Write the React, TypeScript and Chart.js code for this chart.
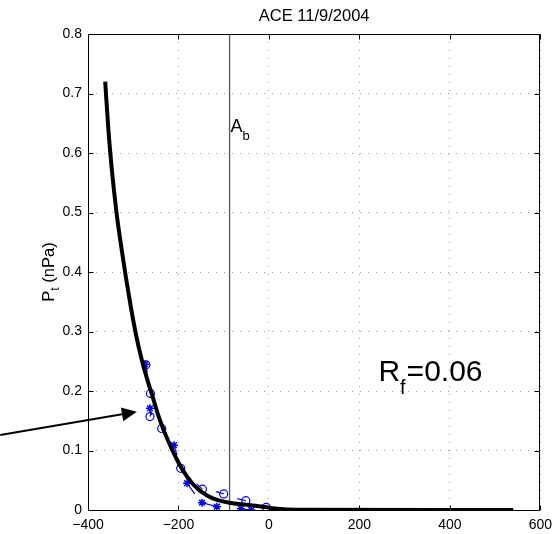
import React, { useEffect, useRef } from "react";
import { Chart, registerables } from "chart.js";

Chart.register(...registerables);

const TITLE = "ACE 11/9/2004";
const Y_LABEL_MAIN = "P";
const Y_LABEL_SUB = "t";
const Y_LABEL_REST = " (nPa)";
const AB_MAIN = "A";
const AB_SUB = "b";
const RF_MAIN = "R";
const RF_SUB = "f";
const RF_VALUE = "=0.06";

const X_TICKS = [-400, -200, 0, 200, 400, 600];
const X_TICK_LABELS = ["\u2212400", "\u2212200", "0", "200", "400", "600"];
const Y_TICKS = [0, 0.1, 0.2, 0.3, 0.4, 0.5, 0.6, 0.7, 0.8];
const Y_TICK_LABELS = ["0", "0.1", "0.2", "0.3", "0.4", "0.5", "0.6", "0.7", "0.8"];

// fitted curve
const FIT_X = [-362, -355, -347, -337, -326, -316, -305, -294, -282, -270, -257, -245, -232, -218, -203, -188, -172, -155, -136, -115, -90, -60, -30, 0, 25, 60, 540];
const FIT_Y = [0.72, 0.64, 0.57, 0.5, 0.44, 0.39, 0.34, 0.295, 0.255, 0.222, 0.19, 0.16, 0.133, 0.108, 0.084, 0.064, 0.047, 0.034, 0.024, 0.017, 0.0125, 0.0095, 0.007, 0.004, 0.0015, 0.0005, 0.0];

// observed (circles) with tails
const CIRCLE_X = [-272, -262, -263, -237, -195, -147, -100, -51, -6];
const CIRCLE_Y = [0.244, 0.196, 0.157, 0.137, 0.07, 0.035, 0.027, 0.0156, 0.0045];
const CIRCLE_TAIL_X = [-269, -266, -260, -233, -190, -160, -117, -70, -17];
const CIRCLE_TAIL_Y = [0.232, 0.205, 0.165, 0.13, 0.062, 0.044, 0.031, 0.019, 0.0084];

// observed (asterisks) with tails
const STAR_X = [-274, -263, -210, -181, -148, -115, -62, -39];
const STAR_Y = [0.245, 0.171, 0.109, 0.045, 0.0123, 0.0055, 0.002, 0.0];
const STAR_TAIL_X = [-272, -259, -203, -164, -115, -115, -39, -39];
const STAR_TAIL_Y = [0.235, 0.16, 0.092, 0.027, 0.0055, 0.0055, 0.0, 0.0];

const AB_X = -87;
const AB_LABEL_POS = [-85, 0.635];
const RF_LABEL_POS = [242, 0.217];
const ARROW_FROM = [-594, 0.126];
const ARROW_TO = [-292, 0.165];

const FONT = "'Liberation Sans', Arial, Helvetica, sans-serif";
const BLUE = "#0000ff";

function segments(xs: number[], ys: number[], tx: number[], ty: number[]) {
  const out: any[] = [];
  xs.forEach((x, i) => {
    out.push({ x, y: ys[i] });
    out.push({ x: tx[i], y: ty[i] });
    out.push({ x: x, y: null });
  });
  return out;
}

const overlay = {
  id: "overlay",
  afterDraw(chart: any) {
    const { ctx, chartArea: a, scales } = chart;
    const xs = scales.x;
    const ys = scales.y;
    ctx.save();
    // box
    ctx.strokeStyle = "#000";
    ctx.lineWidth = 1;
    const L = Math.round(a.left) + 0.5;
    const R = Math.round(a.right) - 0.5;
    const T = Math.round(a.top) + 0.5;
    const B = Math.round(a.bottom) + 0.5;
    ctx.beginPath();
    ctx.rect(L, T, R - L, B - T);
    ctx.stroke();
    // inward ticks
    ctx.beginPath();
    X_TICKS.forEach((v) => {
      const p = Math.round(xs.getPixelForValue(v)) + 0.5;
      ctx.moveTo(p, B);
      ctx.lineTo(p, B - 5);
      ctx.moveTo(p, T);
      ctx.lineTo(p, T + 5);
    });
    Y_TICKS.forEach((v) => {
      const p = Math.round(ys.getPixelForValue(v)) + 0.5;
      ctx.moveTo(L, p);
      ctx.lineTo(L + 5, p);
      ctx.moveTo(R, p);
      ctx.lineTo(R - 5, p);
    });
    ctx.stroke();

    ctx.fillStyle = "#000";
    // title
    ctx.font = `16.5px ${FONT}`;
    ctx.textAlign = "center";
    ctx.textBaseline = "alphabetic";
    ctx.fillText(TITLE, (a.left + a.right) / 2, 20.5);

    // y label rotated
    ctx.save();
    const bigF = `16.5px ${FONT}`;
    const subF = `12px ${FONT}`;
    ctx.font = bigF;
    const wP = ctx.measureText(Y_LABEL_MAIN).width;
    const wRest = ctx.measureText(Y_LABEL_REST).width;
    ctx.font = subF;
    const wSub = ctx.measureText(Y_LABEL_SUB).width;
    const total = wP + wSub + wRest;
    ctx.translate(a.left - 34, (a.top + a.bottom) / 2);
    ctx.rotate(-Math.PI / 2);
    ctx.textAlign = "left";
    let cx = -total / 2;
    ctx.font = bigF;
    ctx.fillText(Y_LABEL_MAIN, cx, 0);
    cx += wP;
    ctx.font = subF;
    ctx.fillText(Y_LABEL_SUB, cx, 5);
    cx += wSub;
    ctx.font = bigF;
    ctx.fillText(Y_LABEL_REST, cx, 0);
    ctx.restore();

    // A_b
    ctx.textAlign = "left";
    let px = xs.getPixelForValue(AB_LABEL_POS[0]);
    let py = ys.getPixelForValue(AB_LABEL_POS[1]);
    ctx.font = `18px ${FONT}`;
    ctx.fillText(AB_MAIN, px, py);
    const wA = ctx.measureText(AB_MAIN).width;
    ctx.font = `13px ${FONT}`;
    ctx.fillText(AB_SUB, px + wA, py + 8);

    // R_f=0.06
    px = xs.getPixelForValue(RF_LABEL_POS[0]);
    py = ys.getPixelForValue(RF_LABEL_POS[1]);
    ctx.font = `30px ${FONT}`;
    ctx.fillText(RF_MAIN, px, py);
    const wR = ctx.measureText(RF_MAIN).width;
    ctx.font = `20px ${FONT}`;
    ctx.fillText(RF_SUB, px + wR, py + 13);
    const wf = ctx.measureText(RF_SUB).width;
    ctx.font = `30px ${FONT}`;
    ctx.fillText(RF_VALUE, px + wR + wf + 1, py);

    // arrow
    const x0 = xs.getPixelForValue(ARROW_FROM[0]);
    const y0 = ys.getPixelForValue(ARROW_FROM[1]);
    const x1 = xs.getPixelForValue(ARROW_TO[0]);
    const y1 = ys.getPixelForValue(ARROW_TO[1]);
    const ang = Math.atan2(y1 - y0, x1 - x0);
    const hl = 15;
    const hw = 7;
    const bx = x1 - hl * Math.cos(ang);
    const by = y1 - hl * Math.sin(ang);
    ctx.strokeStyle = "#000";
    ctx.lineWidth = 2;
    ctx.beginPath();
    ctx.moveTo(x0, y0);
    ctx.lineTo(bx, by);
    ctx.stroke();
    ctx.beginPath();
    ctx.moveTo(x1, y1);
    ctx.lineTo(bx - hw * Math.sin(ang), by + hw * Math.cos(ang));
    ctx.lineTo(bx + hw * Math.sin(ang), by - hw * Math.cos(ang));
    ctx.closePath();
    ctx.fill();
    ctx.restore();
  },
};

export default function App() {
  const ref = useRef<HTMLCanvasElement | null>(null);
  useEffect(() => {
    if (!ref.current) return;
    const fit = FIT_X.map((x, i) => ({ x, y: FIT_Y[i] }));
    const circles = CIRCLE_X.map((x, i) => ({ x, y: CIRCLE_Y[i] }));
    const stars = STAR_X.map((x, i) => ({ x, y: STAR_Y[i] }));
    const chart = new Chart(ref.current, {
      type: "scatter",
      data: {
        datasets: [
          {
            label: "fit",
            data: fit,
            showLine: true,
            borderColor: "#000",
            borderWidth: 4,
            pointRadius: 0,
            cubicInterpolationMode: "monotone",
            clip: 0,
          } as any,
          {
            label: "circles",
            data: circles,
            showLine: false,
            pointStyle: "circle",
            pointRadius: 4,
            pointBorderColor: BLUE,
            pointBackgroundColor: "rgba(0,0,0,0)",
            pointBorderWidth: 1.2,
          },
          {
            label: "stars",
            data: stars,
            showLine: false,
            pointStyle: "star",
            pointRadius: 4,
            pointBorderColor: BLUE,
            pointBorderWidth: 1.5,
          },
          {
            label: "circleTails",
            data: segments(CIRCLE_X, CIRCLE_Y, CIRCLE_TAIL_X, CIRCLE_TAIL_Y),
            showLine: true,
            spanGaps: false,
            borderColor: BLUE,
            borderWidth: 1.2,
            pointRadius: 0,
          } as any,
          {
            label: "starTails",
            data: segments(STAR_X, STAR_Y, STAR_TAIL_X, STAR_TAIL_Y),
            showLine: true,
            spanGaps: false,
            borderColor: BLUE,
            borderWidth: 1.2,
            pointRadius: 0,
          } as any,
          {
            label: "Ab",
            data: [
              { x: AB_X, y: Y_TICKS[0] },
              { x: AB_X, y: Y_TICKS[Y_TICKS.length - 1] },
            ],
            showLine: true,
            borderColor: "#555",
            borderWidth: 1.3,
            pointRadius: 0,
          },
        ],
      },
      options: {
        animation: false,
        responsive: false,
        events: [],
        layout: { padding: { top: 34, right: 18, left: 0, bottom: 0 } },
        plugins: { legend: { display: false }, tooltip: { enabled: false }, title: { display: false } },
        scales: {
          x: {
            type: "linear",
            min: X_TICKS[0],
            max: X_TICKS[X_TICKS.length - 1],
            afterBuildTicks: (s: any) => {
              s.ticks = X_TICKS.map((v) => ({ value: v }));
            },
            afterFit: (s: any) => {
              s.height = 24;
            },
            ticks: {
              callback: (v: any) => X_TICK_LABELS[X_TICKS.indexOf(Number(v))],
              color: "#000",
              font: { family: FONT, size: 14 },
              padding: 7,
              maxRotation: 0,
              autoSkip: false,
            },
            grid: { color: "rgba(0,0,0,0.4)", lineWidth: 1, drawTicks: false },
            border: { display: false, dash: [1, 7] },
          },
          y: {
            type: "linear",
            min: Y_TICKS[0],
            max: Y_TICKS[Y_TICKS.length - 1],
            afterBuildTicks: (s: any) => {
              s.ticks = Y_TICKS.map((v) => ({ value: v }));
            },
            afterFit: (s: any) => {
              s.width = 88;
            },
            ticks: {
              callback: (v: any) => Y_TICK_LABELS[Y_TICKS.findIndex((t) => Math.abs(t - Number(v)) < 1e-9)],
              color: "#000",
              font: { family: FONT, size: 14 },
              padding: 6,
              autoSkip: false,
            },
            grid: { color: "rgba(0,0,0,0.4)", lineWidth: 1, drawTicks: false },
            border: { display: false, dash: [1, 7] },
          },
        },
      },
      plugins: [overlay],
    });
    return () => chart.destroy();
  }, []);
  return (
    <div style={{ position: "absolute", left: 0, top: 0, width: 559, height: 534, background: "#fff" }}>
      <canvas ref={ref} width={559} height={534} style={{ display: "block" }} />
    </div>
  );
}
